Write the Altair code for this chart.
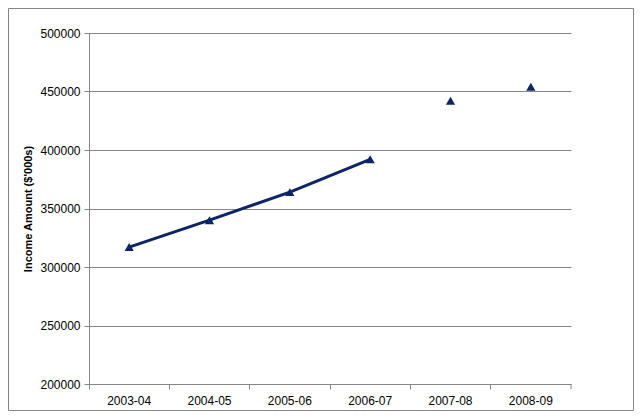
import altair as alt
import pandas as pd

categories = ["2003-04", "2004-05", "2005-06", "2006-07", "2007-08", "2008-09"]
income = [317000, 340000, 364000, 392000, 442000, 454000]
joined = [True, True, True, True, False, False]

df = pd.DataFrame({"year": categories, "income": income, "joined": joined})

W, H = 482, 351
NAVY = "#0d2566"
GRAY = "#868686"
FONT = "Liberation Sans"

x_enc = alt.X(
    "year:N",
    sort=categories,
    scale=alt.Scale(type="band", paddingInner=0, paddingOuter=0),
    axis=alt.Axis(
        title=None,
        bandPosition=0,
        grid=False,
        domainColor=GRAY,
        tickColor=GRAY,
        tickSize=5,
        labelAngle=0,
        labelPadding=6,
        labelFontSize=12,
        labelFont=FONT,
        labelColor="#000000",
    ),
)
y_enc = alt.Y(
    "income:Q",
    scale=alt.Scale(domain=[200000, 500000], nice=False, zero=False),
    axis=alt.Axis(
        title="Income Amount ($'000s)",
        titleFont=FONT,
        titleFontSize=11,
        titleFontWeight="bold",
        titleColor="#000000",
        titlePadding=6,
        values=[200000, 250000, 300000, 350000, 400000, 450000, 500000],
        format="d",
        grid=True,
        gridColor=GRAY,
        gridWidth=1,
        domainColor=GRAY,
        tickColor=GRAY,
        tickSize=5,
        labelPadding=4,
        labelFontSize=12,
        labelFont=FONT,
        labelColor="#000000",
    ),
)

base = alt.Chart(df)

line = base.mark_line(color=NAVY, strokeWidth=3).encode(x=x_enc, y=y_enc).transform_filter(
    alt.datum.joined
)
points = base.mark_point(shape="triangle-up", filled=True, size=85, color=NAVY, opacity=1).encode(
    x=x_enc, y=y_enc
)

one = alt.Data(values=[{}])
border = alt.Chart(one).mark_rect(fill=None, stroke=GRAY, strokeWidth=1).encode(
    x=alt.value(-80.5), x2=alt.value(W + 62.5), y=alt.value(-24.5), y2=alt.value(H + 26.5)
)
last_tick = alt.Chart(one).mark_rule(color=GRAY, strokeWidth=1).encode(
    x=alt.value(W), y=alt.value(H), y2=alt.value(H + 5)
)

chart = (
    alt.layer(border, line, points, last_tick)
    .properties(
        width=W,
        height=H,
        autosize=alt.AutoSizeParams(type="none"),
        padding={"left": 81, "top": 25, "right": 63, "bottom": 27},
        background="#ffffff",
    )
    .configure_view(stroke=None)
)

chart.save("out.html", embed_options={"renderer": "svg", "actions": False})
